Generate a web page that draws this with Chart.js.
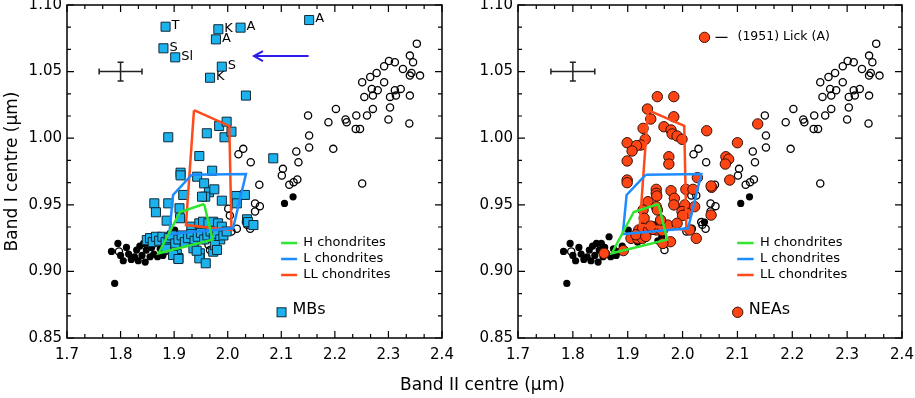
<!DOCTYPE html>
<html>
<head>
<meta charset="utf-8">
<script src="https://cdn.jsdelivr.net/npm/chart.js@4.4.1/dist/chart.umd.min.js"></script>
<style>
  html, body { margin: 0; padding: 0; background: #fff; }
  #wrap { position: relative; width: 915px; height: 398px; overflow: hidden; font-family: "DejaVu Sans", sans-serif; }
  #left { position: absolute; left: 0; top: 0; }
  #right { position: absolute; left: 455px; top: 0; }
  #xtitle { position: absolute; left: 400px; top: 374px; font-size: 17px; line-height: 20px; white-space: nowrap; }
</style>
</head>
<body>
<div id="wrap">
  <canvas id="left" width="455" height="398"></canvas>
  <canvas id="right" width="460" height="398"></canvas>
  <div id="xtitle">Band II centre (µm)</div>
</div>
<script>
// axis ranges and tick labels
const xMin = 1.7, xMax = 2.4, yMin = 0.85, yMax = 1.10;
const xTicks = [1.7, 1.8, 1.9, 2.0, 2.1, 2.2, 2.3, 2.4];
const yTicks = [0.85, 0.90, 0.95, 1.00, 1.05, 1.10];

// reference pyroxenes (same in both panels)
const blackPts = [
  [1.783, 0.915], [1.789, 0.891], [1.795, 0.921], [1.800, 0.912], [1.805, 0.908], [1.811, 0.918],
  [1.815, 0.913], [1.820, 0.909], [1.826, 0.911], [1.830, 0.916], [1.833, 0.908], [1.836, 0.919],
  [1.840, 0.912], [1.843, 0.921], [1.846, 0.907], [1.848, 0.916], [1.852, 0.921], [1.855, 0.911],
  [1.858, 0.918], [1.862, 0.913], [1.866, 0.926], [1.869, 0.911], [1.874, 0.917], [1.879, 0.912],
  [1.884, 0.915], [1.890, 0.919], [1.901, 0.931], [1.908, 0.925], [1.918, 0.922], [1.928, 0.927],
  [1.942, 0.930], [1.949, 0.935], [1.955, 0.923], [1.962, 0.926], [2.040, 0.937], [2.106, 0.951],
  [2.122, 0.956]
];
const openPts = [
  [2.353, 1.071], [2.340, 1.062], [2.346, 1.057], [2.301, 1.058], [2.312, 1.057], [2.292, 1.054],
  [2.327, 1.052], [2.278, 1.049], [2.266, 1.046], [2.343, 1.049], [2.340, 1.047], [2.359, 1.047],
  [2.251, 1.042], [2.292, 1.042], [2.269, 1.037], [2.280, 1.036], [2.312, 1.036], [2.323, 1.037],
  [2.255, 1.031], [2.271, 1.032], [2.303, 1.031], [2.314, 1.032], [2.340, 1.032], [2.202, 1.022],
  [2.271, 1.022], [2.303, 1.023], [2.150, 1.017], [2.220, 1.014], [2.222, 1.012], [2.240, 1.017],
  [2.260, 1.017], [2.188, 1.012], [2.300, 1.014], [2.339, 1.011], [2.239, 1.007], [2.247, 1.007],
  [2.152, 1.002], [2.152, 0.993], [2.197, 0.992], [2.029, 0.992], [2.043, 0.982], [2.128, 0.990],
  [2.132, 0.982], [2.103, 0.977], [2.101, 0.972], [2.130, 0.969], [2.123, 0.967], [2.115, 0.965],
  [2.059, 0.965], [2.251, 0.966], [2.020, 0.988], [2.001, 0.947], [2.004, 0.942], [2.017, 0.932],
  [2.036, 0.935], [2.042, 0.932], [2.051, 0.951], [2.060, 0.949], [2.051, 0.945], [1.797, 0.915],
  [1.967, 0.916], [2.016, 0.957], [2.025, 0.957], [2.007, 0.930], [2.034, 0.937], [1.964, 0.920]
];

// chondrite regions
const hPoly = [[1.956, 0.9506], [1.911, 0.9446], [1.871, 0.9136], [1.972, 0.9238], [1.956, 0.9506]];
const lPoly = [[1.933, 0.9726], [2.034, 0.9731], [2.010, 0.9324], [1.891, 0.9280], [1.898, 0.9574], [1.933, 0.9726]];
const llPoly = [[1.937, 1.0210], [2.003, 1.0092], [2.007, 0.9311], [1.922, 0.9348], [1.937, 1.0210]];

// main-belt asteroids (labelled ones first)
const mbTagPts = [
  [1.884, 1.0837], [1.880, 1.0675], [1.902, 1.0607], [1.9825, 1.0818], [1.978, 1.0742],
  [2.024, 1.0830], [1.989, 1.0537], [1.967, 1.0454], [2.152, 1.0887]
];
const mbTagText = ['T', 'S', 'Sl', 'K', 'A', 'A', 'S', 'K', 'A'];
const mbPts = [
  [2.034, 1.032], [1.889, 1.0007], [1.961, 1.0037], [1.984, 1.0092], [1.998, 1.0124], [1.994, 1.0007],
  [2.007, 1.0049], [1.947, 0.9866], [2.085, 0.9849], [1.912, 0.9741], [1.912, 0.9721], [1.971, 0.9756],
  [1.943, 0.9711], [1.956, 0.9661], [1.965, 0.9594], [1.975, 0.9616], [1.958, 0.9561], [1.917, 0.9574],
  [1.952, 0.9561], [1.989, 0.9531], [2.016, 0.9566], [2.032, 0.9574], [2.017, 0.9511], [1.863, 0.9511],
  [1.866, 0.9444], [1.889, 0.9511], [1.910, 0.9474], [1.886, 0.9381], [1.911, 0.9399], [1.932, 0.9336],
  [1.947, 0.9361], [1.954, 0.9373], [1.964, 0.9361], [1.973, 0.9373], [1.982, 0.9361], [1.989, 0.9336],
  [2.036, 0.9391], [2.038, 0.9370], [2.048, 0.9348],
  [1.849, 0.9235], [1.855, 0.9250], [1.860, 0.9220], [1.866, 0.9260], [1.872, 0.9230], [1.878, 0.9260],
  [1.884, 0.9220], [1.890, 0.9250], [1.896, 0.9270], [1.902, 0.9210], [1.908, 0.9240], [1.914, 0.9270],
  [1.920, 0.9220], [1.926, 0.9250], [1.932, 0.9280], [1.938, 0.9230], [1.944, 0.9260], [1.950, 0.9290],
  [1.956, 0.9240], [1.962, 0.9270], [1.968, 0.9300], [1.974, 0.9250], [1.980, 0.9280], [1.986, 0.9240],
  [1.992, 0.9270], [1.998, 0.9300], [1.885, 0.9170], [1.905, 0.9130], [1.908, 0.9100],
  [1.898, 0.9123], [1.908, 0.9093], [1.948, 0.9136], [1.947, 0.9098], [1.959, 0.9061], [1.973, 0.9148],
  [1.976, 0.9198], [1.936, 0.9173], [1.942, 0.9155], [1.980, 0.9161]
];

// near-Earth asteroids
const lickPt = [2.040, 1.0757];
const neaPts = [
  lickPt,
  [1.954, 1.0312], [1.984, 1.0312], [1.936, 1.0219], [1.942, 1.0144], [1.984, 1.0161], [1.928, 1.0074],
  [1.966, 1.0086], [1.979, 1.0062], [1.981, 1.0032], [1.990, 1.0017], [1.999, 0.9992], [1.932, 0.9992],
  [1.924, 0.9949], [1.899, 0.9966], [1.916, 0.9944], [1.908, 0.9904], [2.044, 1.0056], [2.137, 1.0107],
  [2.100, 0.9966], [1.975, 0.9861], [1.975, 0.9806], [1.899, 0.9829], [2.079, 0.9861], [2.084, 0.9842],
  [2.078, 0.9806], [2.086, 0.9686], [1.899, 0.9686], [1.899, 0.9666], [2.027, 0.9704], [2.053, 0.9631],
  [1.952, 0.9616], [1.952, 0.9586], [1.979, 0.9606], [2.006, 0.9616], [2.019, 0.9616], [1.953, 0.9566],
  [1.937, 0.9523], [1.985, 0.9549], [2.052, 0.9641], [1.984, 0.9499], [2.004, 0.9499], [2.022, 0.9486],
  [1.999, 0.9449], [2.008, 0.9436], [2.052, 0.9423], [1.928, 0.9461], [1.930, 0.9399], [1.952, 0.9486],
  [1.954, 0.9461], [1.973, 0.9348], [1.952, 0.9311], [1.920, 0.9311], [1.927, 0.9321], [1.938, 0.9311],
  [1.946, 0.9316], [1.963, 0.9306], [1.906, 0.9248], [1.918, 0.9248], [1.927, 0.9248], [1.978, 0.9223],
  [1.964, 0.9210], [2.013, 0.9311], [2.025, 0.9248], [1.857, 0.9136], [1.892, 0.9156], [1.942, 0.9340],
  [1.960, 0.9386], [2.000, 0.9420], [1.915, 0.9275], [1.933, 0.9262], [1.990, 0.9361]
];

// error bar, arrow
const errCentre = [1.8, 1.05], errHalf = [0.04, 0.007];
const arrowFrom = [2.151, 1.0617], arrowTo = [2.049, 1.0617];

const FONT = '"DejaVu Sans", sans-serif';
const C_SQ = '#1cb2ee', C_RED = '#ff4513';
const C_H = '#2fe52f', C_L = '#1d8cff', C_LL = '#ff4a1a';

const toXY = pts => pts.map(p => ({ x: p[0], y: p[1] }));

function polySet(pts, color) {
  return { type: 'scatter', data: toXY(pts), showLine: true, fill: false, borderColor: color,
    borderWidth: 2.5, pointRadius: 0, tension: 0, order: 0 };
}

function decor(kind) {
  return {
    id: 'decor' + kind,
    afterDatasetsDraw(chart) {
      const ctx = chart.ctx, a = chart.chartArea;
      const sx = chart.scales.x, sy = chart.scales.y;
      const X = v => sx.getPixelForValue(v), Y = v => sy.getPixelForValue(v);
      ctx.save();
      ctx.strokeStyle = '#000';
      ctx.lineWidth = 1.5;
      ctx.strokeRect(a.left, a.top, a.right - a.left, a.bottom - a.top);
      // inward ticks, 3 minor intervals
      ctx.lineWidth = 1.2;
      ctx.beginPath();
      for (let i = 0; i <= 21; i++) {
        const px = X(xMin + i * 0.1 / 3), len = i % 3 === 0 ? 7 : 4;
        ctx.moveTo(px, a.bottom); ctx.lineTo(px, a.bottom - len);
        ctx.moveTo(px, a.top); ctx.lineTo(px, a.top + len);
      }
      for (let i = 0; i <= 15; i++) {
        const py = Y(yMin + i * 0.05 / 3), len = i % 3 === 0 ? 7 : 4;
        ctx.moveTo(a.left, py); ctx.lineTo(a.left + len, py);
        ctx.moveTo(a.right, py); ctx.lineTo(a.right - len, py);
      }
      ctx.stroke();

      // error bar
      const cx = X(errCentre[0]), cy = Y(errCentre[1]);
      const x0 = X(errCentre[0] - errHalf[0]), x1 = X(errCentre[0] + errHalf[0]);
      const y0 = Y(errCentre[1] - errHalf[1]), y1 = Y(errCentre[1] + errHalf[1]);
      ctx.strokeStyle = '#222';
      ctx.lineWidth = 1.5;
      ctx.beginPath();
      ctx.moveTo(x0, cy); ctx.lineTo(x1, cy);
      ctx.moveTo(cx, y0); ctx.lineTo(cx, y1);
      ctx.moveTo(x0, cy - 3); ctx.lineTo(x0, cy + 3);
      ctx.moveTo(x1, cy - 3); ctx.lineTo(x1, cy + 3);
      ctx.moveTo(cx - 3, y0); ctx.lineTo(cx + 3, y0);
      ctx.moveTo(cx - 3, y1); ctx.lineTo(cx + 3, y1);
      ctx.stroke();

      // chondrite legend
      const legend = [['H chondrites', C_H, 0.9213], ['L chondrites', C_L, 0.9093], ['LL chondrites', C_LL, 0.8973]];
      ctx.font = '13px ' + FONT;
      ctx.textBaseline = 'middle';
      ctx.textAlign = 'left';
      legend.forEach(([t, c, v]) => {
        const py = Y(v);
        ctx.strokeStyle = c; ctx.lineWidth = 2.5;
        ctx.beginPath(); ctx.moveTo(X(2.0996), py); ctx.lineTo(X(2.1295), py); ctx.stroke();
        ctx.fillStyle = '#000';
        ctx.fillText(t, X(2.141), py);
      });

      const mx = X(2.1005), my = Y(0.8693);
      ctx.lineWidth = 1;
      ctx.strokeStyle = '#102a38';
      if (kind === 'mb') {
        ctx.fillStyle = C_SQ;
        ctx.fillRect(mx - 4.5, my - 4.5, 9, 9);
        ctx.strokeRect(mx - 4.5, my - 4.5, 9, 9);
        ctx.fillStyle = '#000';
        ctx.font = '16px ' + FONT;
        ctx.fillText('MBs', mx + 11, my - 2);

        // class labels next to squares
        ctx.font = '13px ' + FONT;
        mbTagPts.forEach((p, i) => {
          ctx.fillText(mbTagText[i], X(p[0]) + 6, Y(p[1]) - 1);
        });

        // arrow
        const ax0 = X(arrowFrom[0]), ax1 = X(arrowTo[0]), ay = Y(arrowFrom[1]);
        ctx.strokeStyle = '#2a1ee6';
        ctx.lineWidth = 2;
        ctx.beginPath();
        ctx.moveTo(ax0, ay); ctx.lineTo(ax1, ay);
        ctx.moveTo(ax1 + 9, ay - 5); ctx.lineTo(ax1, ay); ctx.lineTo(ax1 + 9, ay + 5);
        ctx.stroke();
      } else {
        ctx.fillStyle = C_RED;
        ctx.strokeStyle = '#3a1005';
        ctx.beginPath(); ctx.arc(mx, my, 5.2, 0, Math.PI * 2); ctx.fill(); ctx.stroke();
        ctx.fillStyle = '#000';
        ctx.font = '16px ' + FONT;
        ctx.fillText('NEAs', mx + 11, my - 2);

        const lx = X(lickPt[0]), ly = Y(lickPt[1]);
        ctx.strokeStyle = '#000';
        ctx.lineWidth = 1.2;
        ctx.beginPath(); ctx.moveTo(lx + 11, ly); ctx.lineTo(lx + 23, ly); ctx.stroke();
        ctx.font = '12.5px ' + FONT;
        ctx.fillText('(1951) Lick (A)', lx + 33, ly - 1);
      }
      ctx.restore();
    }
  };
}

function makeChart(id, kind) {
  const yWidth = kind === 'mb' ? 67 : 63;
  const datasets = [
    polySet(hPoly, C_H), polySet(lPoly, C_L), polySet(llPoly, C_LL)
  ];
  if (kind === 'mb') {
    datasets.push({ data: toXY(mbTagPts.concat(mbPts)), pointStyle: 'rect', pointRadius: 6.4,
      backgroundColor: C_SQ, borderColor: '#102a38', borderWidth: 1, order: 1 });
  } else {
    datasets.push({ data: toXY(neaPts), pointStyle: 'circle', pointRadius: 5.2,
      backgroundColor: C_RED, borderColor: '#3a1005', borderWidth: 1, order: 1 });
  }
  datasets.push({ data: toXY(openPts), pointRadius: 3.6, backgroundColor: 'rgba(0,0,0,0)',
    borderColor: '#000', borderWidth: 1.3, order: 2 });
  datasets.push({ data: toXY(blackPts), pointRadius: 3.6, backgroundColor: '#000',
    borderColor: '#000', borderWidth: 0, order: 3 });

  return new Chart(document.getElementById(id), {
    type: 'scatter',
    data: { datasets },
    options: {
      responsive: false,
      animation: false,
      events: [],
      layout: { autoPadding: false, padding: { left: 0, top: 5, right: 13, bottom: 30 } },
      plugins: { legend: { display: false }, tooltip: { enabled: false } },
      scales: {
        x: {
          type: 'linear', min: xMin, max: xMax,
          afterBuildTicks: s => { s.ticks = xTicks.map(v => ({ value: v })); },
          afterFit: s => { s.height = 30; s.paddingLeft = 0; s.paddingRight = 0; },
          grid: { display: false, drawTicks: false }, border: { display: false },
          ticks: { color: '#000', padding: 8, font: { family: FONT, size: 15 },
            callback: v => v.toFixed(1) }
        },
        y: {
          type: 'linear', min: yMin, max: yMax,
          afterBuildTicks: s => { s.ticks = yTicks.map(v => ({ value: v })); },
          afterFit: s => { s.width = yWidth; s.paddingTop = 0; s.paddingBottom = 0; },
          grid: { display: false, drawTicks: false }, border: { display: false },
          ticks: { color: '#000', padding: 5, font: { family: FONT, size: 15 },
            callback: v => v.toFixed(2) },
          title: { display: kind === 'mb', text: 'Band I centre (µm)', color: '#000',
            font: { family: FONT, size: 17 }, padding: { top: 2, bottom: 2 } }
        }
      }
    },
    plugins: [decor(kind)]
  });
}

makeChart('left', 'mb');
makeChart('right', 'nea');
</script>
</body>
</html>
